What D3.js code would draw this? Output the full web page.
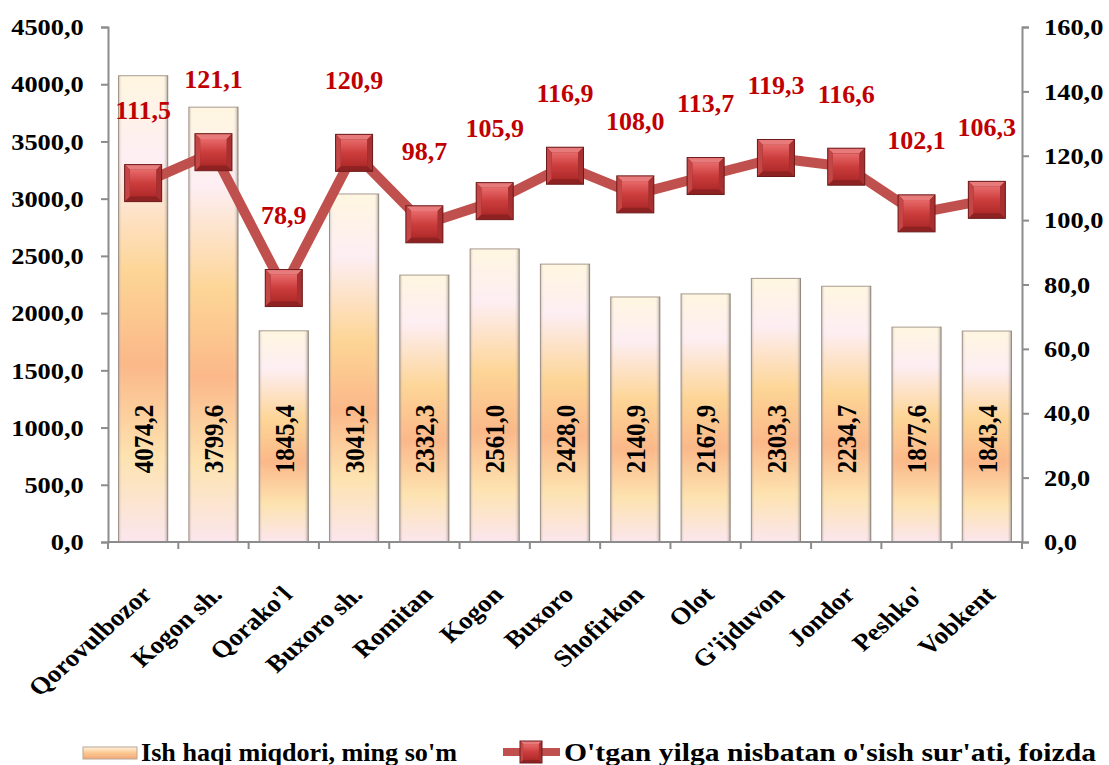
<!DOCTYPE html>
<html>
<head>
<meta charset="utf-8">
<script src="https://cdn.jsdelivr.net/npm/d3@7"></script>
<style>
  body { margin: 0; background: #fff; }
  text { font-family: "Liberation Serif", "Times New Roman", serif; font-weight: bold; }
</style>
</head>
<body>
<div id="chart"></div>
<script>
// districts
var categories = ["Qorovulbozor", "Kogon sh.", "Qorako'l", "Buxoro sh.", "Romitan", "Kogon",
    "Buxoro", "Shofirkon", "Olot", "G'ijduvon", "Jondor", "Peshko'", "Vobkent"];
// Ish haqi miqdori, ming so'm
var wages = [4074.2, 3799.6, 1845.4, 3041.2, 2332.3, 2561.0, 2428.0, 2140.9, 2167.9, 2303.3, 2234.7, 1877.6, 1843.4];
// O'tgan yilga nisbatan o'sish sur'ati, foizda
var growth = [111.5, 121.1, 78.9, 120.9, 98.7, 105.9, 116.9, 108.0, 113.7, 119.3, 116.6, 102.1, 106.3];
var leftTicks = [0, 500, 1000, 1500, 2000, 2500, 3000, 3500, 4000, 4500];
var rightTicks = [0, 20, 40, 60, 80, 100, 120, 140, 160];
var seriesNames = ["Ish haqi miqdori, ming so'm", "O'tgan yilga nisbatan o'sish sur'ati, foizda"];

var width = 1109, height = 765;
var margin = {top: 27, right: 87, bottom: 223, left: 108};
var stretch = 1.12; // text in the original looks a little wide

var svg = d3.select("#chart").append("svg")
    .attr("width", width)
    .attr("height", height);

svg.append("rect").attr("width", width).attr("height", height).attr("fill", "#fff");

var defs = svg.append("defs");

// bar gradient
var barGrad = defs.append("linearGradient")
    .attr("id", "barGrad")
    .attr("x1", 0).attr("y1", 0).attr("x2", 0).attr("y2", 1);
[[0, "#fff6e0"], [0.18, "#fdeef3"], [0.42, "#fdd596"], [0.62, "#fbb889"], [0.82, "#fde3b0"], [1, "#fbe6ee"]]
    .forEach(function(s){
        barGrad.append("stop").attr("offset", s[0]).attr("stop-color", s[1]);
    });

// legend swatch gradient
var legGrad = defs.append("linearGradient")
    .attr("id", "legGrad")
    .attr("x1", 0).attr("y1", 0).attr("x2", 0).attr("y2", 1);
[[0, "#fff3dc"], [0.5, "#fcc78f"], [1, "#f3a779"]].forEach(function(s){
    legGrad.append("stop").attr("offset", s[0]).attr("stop-color", s[1]);
});

// side shade for 3d look
var sideGrad = defs.append("linearGradient")
    .attr("id", "sideGrad")
    .attr("x1", 0).attr("y1", 0).attr("x2", 1).attr("y2", 0);
[[0, "rgba(120,100,90,0.35)"], [0.08, "rgba(255,255,255,0)"], [0.9, "rgba(255,255,255,0)"], [1, "rgba(90,80,70,0.5)"]]
    .forEach(function(s){
        sideGrad.append("stop").attr("offset", s[0]).attr("stop-color", s[1]);
    });

// marker gradient
var markGrad = defs.append("linearGradient")
    .attr("id", "markGrad")
    .attr("x1", 0).attr("y1", 0).attr("x2", 0).attr("y2", 1);
[[0, "#e86a6a"], [0.5, "#cc3d3d"], [1, "#b02a2a"]].forEach(function(s){
    markGrad.append("stop").attr("offset", s[0]).attr("stop-color", s[1]);
});

var x = d3.scaleBand()
    .domain(categories)
    .range([margin.left, width - margin.right])
    .paddingInner(0.3)
    .paddingOuter(0.15);

var yL = d3.scaleLinear().domain([0, 4500]).range([height - margin.bottom, margin.top]);
var yR = d3.scaleLinear().domain([0, 160]).range([height - margin.bottom, margin.top]);

var baseY = yL(0);
var fmt = function(d){ return d.toFixed(1).replace(".", ","); };

// axes
var axisColor = "#8c8c8c";

var gL = svg.append("g")
    .attr("transform", "translate(" + margin.left + ",0)")
    .call(d3.axisLeft(yL).tickValues(leftTicks).tickFormat(fmt).tickSize(7).tickPadding(15));
var gR = svg.append("g")
    .attr("transform", "translate(" + (width - margin.right) + ",0)")
    .call(d3.axisRight(yR).tickValues(rightTicks).tickFormat(fmt).tickSize(7).tickPadding(13));

[gL, gR].forEach(function(g){
    g.select(".domain").attr("stroke", axisColor).attr("stroke-width", 2);
    g.selectAll(".tick line").attr("stroke", axisColor).attr("stroke-width", 2);
    g.selectAll(".tick text")
        .attr("fill", "#000")
        .attr("transform", "scale(" + 1.1 + ",1)")
        .style("font-size", "24px")
        .style("font-family", "Liberation Serif, Times New Roman, serif")
        .style("font-weight", "bold");
});

// bars
svg.selectAll(".bar")
    .data(wages)
    .enter().append("rect")
    .attr("class", "bar")
    .attr("x", function(d, i){ return x(categories[i]); })
    .attr("y", function(d){ return yL(d); })
    .attr("width", x.bandwidth())
    .attr("height", function(d){ return baseY - yL(d); })
    .attr("fill", "url(#barGrad)")
    .attr("stroke", "#a89a90")
    .attr("stroke-width", 1);

svg.selectAll(".barSide")
    .data(wages)
    .enter().append("rect")
    .attr("class", "barSide")
    .attr("x", function(d, i){ return x(categories[i]); })
    .attr("y", function(d){ return yL(d); })
    .attr("width", x.bandwidth())
    .attr("height", function(d){ return baseY - yL(d); })
    .attr("fill", "url(#sideGrad)");

// bottom axis
var step = x.step();
svg.append("line")
    .attr("x1", margin.left).attr("x2", width - margin.right)
    .attr("y1", baseY).attr("y2", baseY)
    .attr("stroke", axisColor).attr("stroke-width", 2);

var tickXs = categories.map(function(c){ return x(c) - step * x.paddingInner() / 2; });
tickXs[0] = margin.left;
tickXs.push(width - margin.right);
svg.selectAll(".xtick")
    .data(tickXs)
    .enter().append("line")
    .attr("x1", function(d){ return d; }).attr("x2", function(d){ return d; })
    .attr("y1", baseY).attr("y2", baseY + 7)
    .attr("stroke", axisColor).attr("stroke-width", 2);

svg.selectAll(".xlabel")
    .data(categories)
    .enter().append("text")
    .attr("class", "xlabel")
    .attr("transform", function(d){
        return "translate(" + (x(d) + x.bandwidth() / 2 + 10) + "," + (baseY + 54) + ") scale(" + stretch + ",1) rotate(-45)";
    })
    .attr("text-anchor", "end")
    .style("font-size", "24px")
    .text(function(d){ return d; });

// bar value labels
svg.selectAll(".barLabel")
    .data(wages)
    .enter().append("text")
    .attr("class", "barLabel")
    .attr("transform", function(d, i){
        return "translate(" + (x(categories[i]) + x.bandwidth() / 2) + "," + yL(900) + ") scale(" + stretch + ",1) rotate(-90)";
    })
    .attr("text-anchor", "middle")
    .attr("dy", "0.35em")
    .style("font-size", "25px")
    .text(function(d){ return fmt(d); });

// line
var line = d3.line()
    .x(function(d, i){ return x(categories[i]) + x.bandwidth() / 2; })
    .y(function(d){ return yR(d); });

svg.append("path")
    .datum(growth)
    .attr("d", line)
    .attr("fill", "none")
    .attr("stroke", "#c0504d")
    .attr("stroke-width", 10)
    .attr("stroke-linejoin", "round");

function drawMarker(g, cx, cy, s){
    g.append("rect")
        .attr("x", cx - s / 2).attr("y", cy - s / 2)
        .attr("width", s).attr("height", s)
        .attr("fill", "#8e2222");
    var b = s * 0.14;
    g.append("rect")
        .attr("x", cx - s / 2 + b).attr("y", cy - s / 2 + b)
        .attr("width", s - 2 * b).attr("height", s - 2 * b)
        .attr("fill", "url(#markGrad)");
    // bevel edges
    g.append("path")
        .attr("d", "M" + (cx - s / 2) + "," + (cy - s / 2) + "h" + s + "l" + (-b) + "," + b + "h" + (-(s - 2 * b)) + "z")
        .attr("fill", "#e77a7a");
    g.append("path")
        .attr("d", "M" + (cx - s / 2) + "," + (cy - s / 2) + "l" + b + "," + b + "v" + (s - 2 * b) + "l" + (-b) + "," + b + "z")
        .attr("fill", "#c44646");
    g.append("path")
        .attr("d", "M" + (cx + s / 2) + "," + (cy - s / 2) + "l" + (-b) + "," + b + "v" + (s - 2 * b) + "l" + b + "," + b + "z")
        .attr("fill", "#a83030");
    g.append("rect")
        .attr("x", cx - s / 2).attr("y", cy - s / 2)
        .attr("width", s).attr("height", s)
        .attr("fill", "none")
        .attr("stroke", "#6e1a1a").attr("stroke-width", 1);
}

var markers = svg.append("g");
growth.forEach(function(d, i){
    drawMarker(markers, x(categories[i]) + x.bandwidth() / 2, yR(d), 37);
});

svg.selectAll(".lineLabel")
    .data(growth)
    .enter().append("text")
    .attr("class", "lineLabel")
    .attr("transform", function(d, i){
        return "translate(" + (x(categories[i]) + x.bandwidth() / 2) + "," + (yR(d) - 64) + ") scale(1.04,1)";
    })
    .attr("text-anchor", "middle")
    .attr("fill", "#c00000")
    .style("font-size", "25px")
    .text(function(d){ return fmt(d); });

// legend
var legY = 752;
var leg = svg.append("g");
leg.append("rect")
    .attr("x", 83).attr("y", legY - 5).attr("width", 54).attr("height", 12)
    .attr("fill", "url(#legGrad)").attr("stroke", "#b8a898").attr("stroke-width", 1);
leg.append("text")
    .attr("x", 141).attr("y", legY).attr("dy", "0.35em")
    .attr("textLength", 316).attr("lengthAdjust", "spacingAndGlyphs")
    .style("font-size", "25px")
    .text(seriesNames[0]);
leg.append("line")
    .attr("x1", 503).attr("x2", 560).attr("y1", legY).attr("y2", legY)
    .attr("stroke", "#c0504d").attr("stroke-width", 8);
drawMarker(leg, 531, legY, 22);
leg.append("text")
    .attr("x", 564).attr("y", legY).attr("dy", "0.35em")
    .attr("textLength", 532).attr("lengthAdjust", "spacingAndGlyphs")
    .style("font-size", "25px")
    .text(seriesNames[1]);
</script>
</body>
</html>
